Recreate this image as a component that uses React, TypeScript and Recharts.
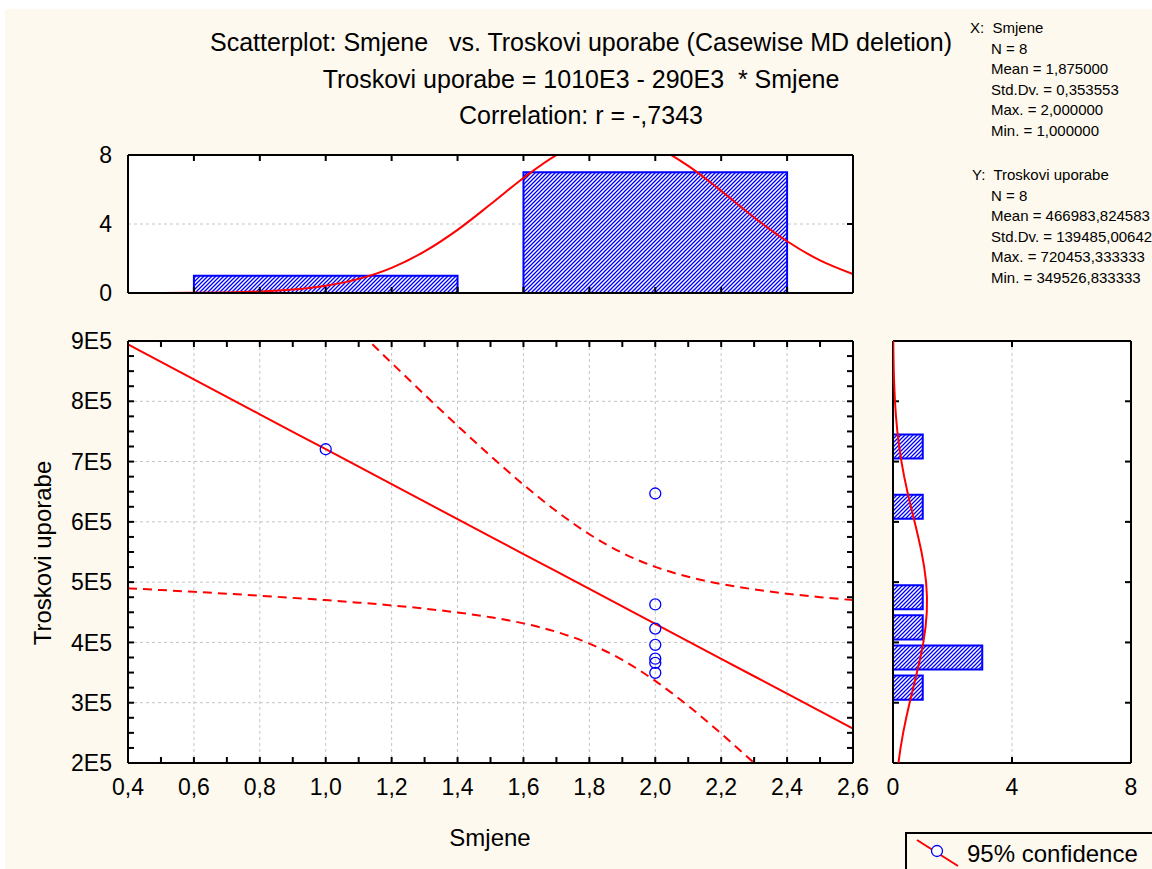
import React from 'react';
import {
  CartesianGrid,
  ComposedChart,
  Line,
  ReferenceArea,
  Scatter,
  XAxis,
  YAxis,
} from 'recharts';

const W = 1152;
const H = 869;
const FONT = '"Liberation Sans", Arial, Helvetica, sans-serif';
const RED = '#ff0000';
const BLUE = '#0000ff';
const INK = '#000000';
const GRID = '#c4c4c4';
const PAPER = '#fef9ee';

const smjeneSteps = [
  0.4, 0.5, 0.6, 0.7, 0.8, 0.9, 1.0, 1.1, 1.2, 1.3, 1.4, 1.5,
  1.6, 1.7, 1.8, 1.9, 2.0, 2.1, 2.2, 2.3, 2.4, 2.5, 2.6,
];
const fitLine = [
  894300, 865300, 836300, 807400, 778400, 749400, 720500, 691500, 662500, 633500, 604600, 575600,
  546600, 517700, 488700, 459700, 430800, 401800, 372800, 343900, 314900, 285900, 257000,
];
const confUpper = [
  1298700, 1243700, 1188800, 1134000, 1079300, 1024900, 970700, 916900, 863600, 811000, 759400, 709400,
  661700, 617800, 579400, 548500, 525400, 508800, 496900, 488000, 480900, 475100, 470200,
];
const confLower = [
  489800, 486900, 483900, 480800, 477500, 473900, 470200, 466000, 461400, 456100, 449700, 441800,
  431600, 417600, 398000, 371000, 336200, 294800, 248800, 199800, 148900, 96700, 43800,
];

// observed cases
const caseSmjene = [1, 2, 2, 2, 2, 2, 2, 2];
const caseTroskovi = [720453, 647000, 463000, 423000, 396000, 373000, 366000, 349527];

// histogram of Smjene (top)
const xBinCenters = [1, 2];
const xBinCounts = [1, 7];
const xNormal = [
  0.002, 0.005, 0.014, 0.036, 0.089, 0.2, 0.42, 0.82, 1.46, 2.41, 3.66, 5.14,
  6.67, 7.99, 8.83, 9.0, 8.48, 7.37, 5.92, 4.38, 3.0, 1.89, 1.1,
];

// histogram of Troskovi uporabe (right)
const yBinStarts = [300000, 350000, 400000, 450000, 600000, 700000];
const yBinCounts = [1, 3, 1, 1, 1, 1];
const yNormalLevels = [
  200000, 225000, 250000, 275000, 300000, 325000, 350000, 375000, 400000, 425000,
  450000, 475000, 500000, 525000, 550000, 575000, 600000, 625000, 650000, 675000,
  700000, 725000, 750000, 775000, 800000, 825000, 850000, 875000, 900000,
];
const yNormal = [
  0.183, 0.254, 0.341, 0.444, 0.559, 0.682, 0.805, 0.921, 1.02, 1.093,
  1.136, 1.142, 1.113, 1.049, 0.958, 0.848, 0.726, 0.602, 0.484, 0.376,
  0.284, 0.207, 0.146, 0.1, 0.066, 0.043, 0.026, 0.016, 0.009,
];

// ticks
const xTicks = [0.4, 0.6, 0.8, 1.0, 1.2, 1.4, 1.6, 1.8, 2.0, 2.2, 2.4, 2.6];
const xMinorTicks = [
  0.4, 0.5, 0.6, 0.7, 0.8, 0.9, 1.0, 1.1, 1.2, 1.3, 1.4, 1.5,
  1.6, 1.7, 1.8, 1.9, 2.0, 2.1, 2.2, 2.3, 2.4, 2.5, 2.6,
];
const yTicks = [200000, 300000, 400000, 500000, 600000, 700000, 800000, 900000];
const yMinorTicks = [
  200000, 225000, 250000, 275000, 300000, 325000, 350000, 375000, 400000, 425000,
  450000, 475000, 500000, 525000, 550000, 575000, 600000, 625000, 650000, 675000,
  700000, 725000, 750000, 775000, 800000, 825000, 850000, 875000, 900000,
];
const countTicks = [0, 4, 8];

const statsX = ['X:  Smjene', 'N = 8', 'Mean = 1,875000', 'Std.Dv. = 0,353553', 'Max. = 2,000000', 'Min. = 1,000000'];
const statsY = ['Y:  Troskovi uporabe', 'N = 8', 'Mean = 466983,824583', 'Std.Dv. = 139485,006420', 'Max. = 720453,333333', 'Min. = 349526,833333'];
const titleLines = [
  'Scatterplot: Smjene   vs. Troskovi uporabe (Casewise MD deletion)',
  'Troskovi uporabe = 1010E3 - 290E3  * Smjene',
  'Correlation: r = -,7343',
];

const mainRows = smjeneSteps.map((x, i) => ({ x, fit: fitLine[i], upper: confUpper[i], lower: confLower[i] }));
const caseRows = caseSmjene.map((x, i) => ({ x, y: caseTroskovi[i] }));
const topRows = smjeneSteps.map((x, i) => ({ x, n: xNormal[i] }));
const sideRows = yNormalLevels.map((v, i) => ({ v, n: yNormal[i] }));

const fmtComma = (v: number) => v.toFixed(1).replace('.', ',');
const fmtE5 = (v: number) => `${Math.round(v / 100000)}E5`;
const noTick = () => <g />;
const frame = { stroke: INK, strokeWidth: 2 };
const tickMark = { stroke: INK, strokeWidth: 2 };
const labelStyle = { fill: INK, fontSize: 23, fontFamily: FONT };

const MAIN = { left: 128, top: 341, right: 853, bottom: 763 };
const TOP = { left: 128, top: 155, right: 853, bottom: 293 };
const SIDE = { left: 893, top: 341, right: 1131, bottom: 763 };

// label axes are 1px thick (non-mirrored), so they eat 1px of margin
const marginOf = (
  r: { left: number; top: number; right: number; bottom: number },
  axisLeft: number,
  axisBottom: number,
) => ({
  left: r.left - axisLeft,
  top: r.top,
  right: W - r.right,
  bottom: H - r.bottom - axisBottom,
});

const layer: React.CSSProperties = { position: 'absolute', left: 0, top: 0 };

function CaseMarker(props: any) {
  const { cx, cy } = props;
  if (cx == null || cy == null) return <g />;
  return <circle cx={cx} cy={cy} r={5.5} fill="none" stroke={BLUE} strokeWidth={1.3} />;
}

function MainPlot() {
  return (
    <ComposedChart width={W} height={H} data={mainRows} margin={marginOf(MAIN, 1, 1)}>
      <CartesianGrid xAxisId="x" yAxisId="y" stroke={GRID} strokeDasharray="3 3" fill="#ffffff" fillOpacity={1} />
      <XAxis xAxisId="x" type="number" dataKey="x" domain={[0.4, 2.6]} ticks={xTicks} interval={0}
        allowDataOverflow height={1} tickSize={0} tickMargin={16} tickLine={false}
        axisLine={frame} tick={labelStyle} tickFormatter={fmtComma} />
      <XAxis xAxisId="xb" type="number" dataKey="x" domain={[0.4, 2.6]} ticks={xMinorTicks} interval={0}
        allowDataOverflow height={1} mirror tickSize={6} axisLine={false} tickLine={tickMark} tick={noTick} />
      <XAxis xAxisId="xt" orientation="top" type="number" dataKey="x" domain={[0.4, 2.6]} ticks={xMinorTicks} interval={0}
        allowDataOverflow height={1} mirror tickSize={6} axisLine={frame} tickLine={tickMark} tick={noTick} />
      <YAxis yAxisId="y" type="number" dataKey="y" domain={[200000, 900000]} ticks={yTicks} interval={0}
        allowDataOverflow width={1} tickSize={0} tickMargin={16} tickLine={false}
        axisLine={frame} tick={labelStyle} tickFormatter={fmtE5} />
      <YAxis yAxisId="yl" type="number" dataKey="y" domain={[200000, 900000]} ticks={yMinorTicks} interval={0}
        allowDataOverflow width={1} mirror tickSize={6} axisLine={false} tickLine={tickMark} tick={noTick} />
      <YAxis yAxisId="yr" orientation="right" type="number" dataKey="y" domain={[200000, 900000]} ticks={yMinorTicks} interval={0}
        allowDataOverflow width={1} mirror tickSize={6} axisLine={frame} tickLine={tickMark} tick={noTick} />
      <Line xAxisId="x" yAxisId="y" dataKey="upper" type="monotone" stroke={RED} strokeWidth={2}
        strokeDasharray="9 6" dot={false} activeDot={false} isAnimationActive={false} />
      <Line xAxisId="x" yAxisId="y" dataKey="lower" type="monotone" stroke={RED} strokeWidth={2}
        strokeDasharray="9 6" dot={false} activeDot={false} isAnimationActive={false} />
      <Line xAxisId="x" yAxisId="y" dataKey="fit" type="linear" stroke={RED} strokeWidth={2}
        dot={false} activeDot={false} isAnimationActive={false} />
      <Scatter xAxisId="x" yAxisId="y" data={caseRows} dataKey="y" shape={CaseMarker} isAnimationActive={false} />
    </ComposedChart>
  );
}

function TopHistogram() {
  return (
    <ComposedChart width={W} height={H} data={topRows} margin={marginOf(TOP, 1, 0)}>
      <CartesianGrid xAxisId="x" yAxisId="y" vertical={false} stroke={GRID} strokeDasharray="3 3" fill="#ffffff" fillOpacity={1} />
      <XAxis xAxisId="x" type="number" dataKey="x" domain={[0.4, 2.6]} ticks={xTicks} interval={0}
        allowDataOverflow height={1} mirror tickSize={6} axisLine={frame} tickLine={tickMark} tick={noTick} />
      <XAxis xAxisId="xt" orientation="top" type="number" dataKey="x" domain={[0.4, 2.6]} ticks={xTicks} interval={0}
        allowDataOverflow height={1} mirror tickSize={6} axisLine={frame} tickLine={tickMark} tick={noTick} />
      <YAxis yAxisId="y" type="number" dataKey="n" domain={[0, 8]} ticks={countTicks} interval={0}
        allowDataOverflow width={1} tickSize={0} tickMargin={16} tickLine={false}
        axisLine={frame} tick={labelStyle} />
      <YAxis yAxisId="yr" orientation="right" type="number" dataKey="n" domain={[0, 8]} ticks={countTicks} interval={0}
        allowDataOverflow width={1} mirror tickSize={6} axisLine={frame} tickLine={tickMark} tick={noTick} />
      {xBinCenters.map((c, i) => (
        <ReferenceArea key={c} xAxisId="x" yAxisId="y" x1={c - 0.4} x2={c + 0.4} y1={0} y2={xBinCounts[i]}
          fill="url(#hatch)" fillOpacity={1} stroke={BLUE} strokeWidth={2} />
      ))}
      <Line xAxisId="x" yAxisId="y" dataKey="n" type="monotone" stroke={RED} strokeWidth={2}
        dot={false} activeDot={false} isAnimationActive={false} />
    </ComposedChart>
  );
}

function SideHistogram() {
  return (
    <ComposedChart width={W} height={H} data={sideRows} margin={marginOf(SIDE, 0, 1)}>
      <CartesianGrid xAxisId="x" yAxisId="y" horizontal={false} stroke={GRID} strokeDasharray="3 3" fill="#ffffff" fillOpacity={1} />
      <XAxis xAxisId="x" type="number" dataKey="n" domain={[0, 8]} ticks={countTicks} interval={0}
        allowDataOverflow height={1} tickSize={0} tickMargin={16} tickLine={false}
        axisLine={frame} tick={labelStyle} />
      <XAxis xAxisId="xb" type="number" dataKey="n" domain={[0, 8]} ticks={countTicks} interval={0}
        allowDataOverflow height={1} mirror tickSize={6} axisLine={false} tickLine={tickMark} tick={noTick} />
      <XAxis xAxisId="xt" orientation="top" type="number" dataKey="n" domain={[0, 8]} ticks={countTicks} interval={0}
        allowDataOverflow height={1} mirror tickSize={6} axisLine={frame} tickLine={tickMark} tick={noTick} />
      <YAxis yAxisId="y" type="number" dataKey="v" domain={[200000, 900000]} ticks={yTicks} interval={0}
        allowDataOverflow width={1} mirror tickSize={6} axisLine={frame} tickLine={tickMark} tick={noTick} />
      <YAxis yAxisId="yr" orientation="right" type="number" dataKey="v" domain={[200000, 900000]} ticks={yTicks} interval={0}
        allowDataOverflow width={1} mirror tickSize={6} axisLine={frame} tickLine={tickMark} tick={noTick} />
      {yBinStarts.map((lo, i) => (
        <ReferenceArea key={lo} xAxisId="x" yAxisId="y" x1={0} x2={yBinCounts[i]} y1={lo + 5000} y2={lo + 45000}
          fill="url(#hatch)" fillOpacity={1} stroke={BLUE} strokeWidth={2} />
      ))}
      <Scatter xAxisId="x" yAxisId="y" data={sideRows} dataKey="v" shape={noTick}
        line={{ stroke: RED, strokeWidth: 2 }} lineType="joint" isAnimationActive={false} />
    </ComposedChart>
  );
}

export default function App() {
  const text = { fontFamily: FONT, fill: INK } as const;
  return (
    <div style={{ position: 'absolute', left: 0, top: 0, width: W, height: H, background: '#ffffff', overflow: 'hidden' }}>
      <div style={{ position: 'absolute', left: 5, top: 9, right: 0, bottom: 0, background: PAPER }} />
      <div style={layer}><TopHistogram /></div>
      <div style={layer}><MainPlot /></div>
      <div style={layer}><SideHistogram /></div>
      <svg width={W} height={H} style={{ ...layer, pointerEvents: 'none' }}>
        <defs>
          <pattern id="hatch" patternUnits="userSpaceOnUse" width={4} height={4}>
            <rect width={4} height={4} fill="#ffffff" />
            <path d="M-1,1 L1,-1 M0,4 L4,0 M3,5 L5,3" stroke={BLUE} strokeWidth={1.3} />
          </pattern>
        </defs>
        {titleLines.map((t, i) => (
          <text key={t} x={581} y={51 + i * 36.5} textAnchor="middle" fontSize={25} style={{ whiteSpace: 'pre' }} {...text}>
            {t}
          </text>
        ))}
        {statsX.map((t, i) => (
          <text key={'x' + i} x={i === 0 ? 970 : 991} y={33 + i * 20.6} fontSize={15} style={{ whiteSpace: 'pre' }} {...text}>
            {t}
          </text>
        ))}
        {statsY.map((t, i) => (
          <text key={'y' + i} x={i === 0 ? 972 : 991} y={180 + i * 20.6} fontSize={15} style={{ whiteSpace: 'pre' }} {...text}>
            {t}
          </text>
        ))}
        <text x={490} y={846} textAnchor="middle" fontSize={24} {...text}>Smjene</text>
        <text x={0} y={0} textAnchor="middle" fontSize={24} transform="translate(51 553) rotate(-90)" {...text}>
          Troskovi uporabe
        </text>
        <rect x={906} y={833} width={260} height={50} fill={PAPER} stroke={INK} strokeWidth={2} />
        <line x1={917} y1={840} x2={958} y2={866} stroke={RED} strokeWidth={2} />
        <circle cx={937} cy={851} r={5.5} fill="#ffffff" stroke={BLUE} strokeWidth={1.3} />
        <text x={967} y={862} fontSize={24} {...text}>95% confidence</text>
      </svg>
    </div>
  );
}
